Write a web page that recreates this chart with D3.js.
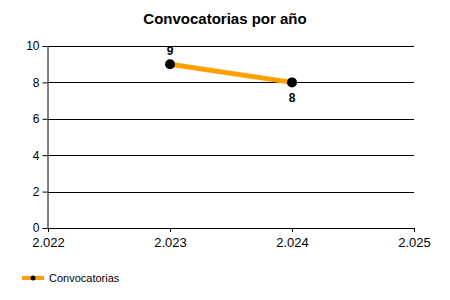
<!DOCTYPE html>
<html>
<head>
<meta charset="utf-8">
<script src="https://cdn.jsdelivr.net/npm/d3@7"></script>
<style>
  body { margin: 0; background: #fff; }
  svg { display: block; font-family: "Liberation Sans", Arial, sans-serif; }
</style>
</head>
<body>
<div id="chart"></div>
<script>
const years = [2023, 2024];
const convocatorias = [9, 8];
const xTicks = [2022, 2023, 2024, 2025];
const yTicks = [0, 2, 4, 6, 8, 10];
const seriesName = "Convocatorias";
const chartTitle = "Convocatorias por año";

const W = 450, H = 300;
const margin = { top: 46, right: 36, bottom: 72, left: 48 },
      width = W - margin.left - margin.right,
      height = H - margin.top - margin.bottom;

const es = d3.formatLocale({ decimal: ",", thousands: ".", grouping: [3], currency: ["", "€"] });
const fmtYear = es.format(",d");

const svg = d3.select("#chart").append("svg")
    .attr("width", W)
    .attr("height", H);

svg.append("text")
    .attr("x", W / 2)
    .attr("y", 24)
    .attr("text-anchor", "middle")
    .attr("font-size", 15)
    .attr("font-weight", "bold")
    .text(chartTitle);

const g = svg.append("g")
    .attr("transform", `translate(${margin.left},${margin.top})`);

const x = d3.scaleLinear().domain([2022, 2025]).range([0, width]);
const y = d3.scaleLinear().domain([0, 10]).range([height, 0]);

// horizontal grid
g.append("g")
    .selectAll("line")
    .data(yTicks)
    .join("line")
    .attr("x1", 0)
    .attr("x2", width)
    .attr("y1", d => Math.round(y(d)) + 0.5)
    .attr("y2", d => Math.round(y(d)) + 0.5)
    .attr("stroke", "#000");

const yAxis = g.append("g")
    .attr("transform", "translate(-0.5,0)")
    .call(d3.axisLeft(y).tickValues(yTicks).tickSize(5).tickSizeOuter(0));
yAxis.selectAll("text").attr("font-size", 12).attr("fill", "#000").attr("font-family", "Liberation Sans, Arial, sans-serif");
yAxis.selectAll("line, path").attr("stroke", "#000");

const xAxis = g.append("g")
    .attr("transform", `translate(0,${height})`)
    .call(d3.axisBottom(x).tickValues(xTicks).tickFormat(fmtYear).tickSize(4).tickSizeOuter(0));
xAxis.selectAll("text").attr("font-size", 13).attr("fill", "#000").attr("dy", "0.9em").attr("font-family", "Liberation Sans, Arial, sans-serif");
xAxis.selectAll("line, path").attr("stroke", "#000");

const data = years.map((yr, i) => ({ year: yr, value: convocatorias[i] }));

g.append("path")
    .datum(data)
    .attr("fill", "none")
    .attr("stroke", "#FFA000")
    .attr("stroke-width", 5)
    .attr("d", d3.line().x(d => x(d.year)).y(d => y(d.value)));

g.selectAll(".dot")
    .data(data)
    .join("circle")
    .attr("cx", d => x(d.year))
    .attr("cy", d => y(d.value))
    .attr("r", 5)
    .attr("fill", "#000");

g.selectAll(".lbl")
    .data(data)
    .join("text")
    .attr("x", d => x(d.year))
    .attr("y", (d, i) => y(d.value) + (i === 0 ? -9 : 20))
    .attr("text-anchor", "middle")
    .attr("font-size", 12)
    .attr("font-weight", "bold")
    .text(d => d.value);

// legend
const leg = svg.append("g").attr("transform", "translate(22,278)");
leg.append("line")
    .attr("x1", 0).attr("x2", 22)
    .attr("stroke", "#FFA000").attr("stroke-width", 4);
leg.append("circle").attr("cx", 11).attr("r", 2.5).attr("fill", "#000");
leg.append("text")
    .attr("x", 27)
    .attr("y", 4)
    .attr("font-size", 11)
    .text(seriesName);
</script>
</body>
</html>
